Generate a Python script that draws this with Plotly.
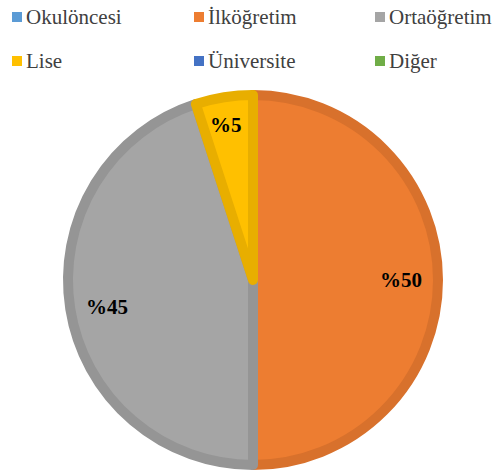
import math
import plotly.graph_objects as go

# education level shares (%)
categories = ["Okulöncesi", "İlköğretim", "Ortaöğretim", "Lise", "Üniversite", "Diğer"]
values = [0, 50, 45, 5, 0, 0]
colors = ["#5B9BD5", "#ED7D31", "#A5A5A5", "#FFC000", "#4472C4", "#70AD47"]
border_colors = ["#4E8BC2", "#D8712C", "#959595", "#E8AE00", "#3A64AD", "#62983E"]

W, H = 493, 473
FONT = "Liberation Serif"

# pie geometry (pixels)
cx, cy, R = 253, 280, 185
line_w = 10

fig = go.Figure()

fig.add_trace(go.Pie(
    labels=categories,
    values=values,
    sort=False,
    direction="clockwise",
    rotation=0,
    marker=dict(
        colors=colors,
        line=dict(color=border_colors, width=[line_w if v > 0 else 0 for v in values]),
    ),
    textinfo="none",
    hoverinfo="label+value",
    showlegend=False,
    domain=dict(x=[(cx - R) / W, (cx + R) / W], y=[(H - cy - R) / H, (H - cy + R) / H]),
))

# data labels, placed near the outer edge at each slice's mid angle
total = sum(values)
cum = 0
for v in values:
    if v > 0:
        mid = (cum + v / 2) / total * 2 * math.pi
        r = 0.9 * (R + line_w / 2)
        x = cx + r * math.sin(mid)
        y = cy - r * math.cos(mid)
        fig.add_annotation(
            x=x / W, y=1 - y / H, xref="paper", yref="paper",
            text="<b>%" + str(v) + "</b>", showarrow=False,
            font=dict(family=FONT, size=21, color="black"),
        )
    cum += v

# legend drawn as squares + labels, 3 columns x 2 rows
col_x = [12, 194, 375]
row_y = [17, 61]
for i, (name, c) in enumerate(zip(categories, colors)):
    lx = col_x[i % 3]
    ly = row_y[i // 3]
    fig.add_shape(
        type="rect", xref="paper", yref="paper",
        x0=lx / W, x1=(lx + 10) / W, y0=1 - (ly + 5) / H, y1=1 - (ly - 5) / H,
        fillcolor=c, line=dict(width=0),
    )
    fig.add_annotation(
        x=(lx + 12) / W, y=1 - ly / H, xref="paper", yref="paper",
        xanchor="left", yanchor="middle", text=name, showarrow=False,
        font=dict(family=FONT, size=21, color="#404040"),
    )

fig.update_layout(
    width=W, height=H,
    margin=dict(l=0, r=0, t=0, b=0),
    paper_bgcolor="white",
    plot_bgcolor="white",
)

fig.write_html(
    "out.html",
    config={"displayModeBar": False},
    post_script="document.body.style.margin = '0';",
)
